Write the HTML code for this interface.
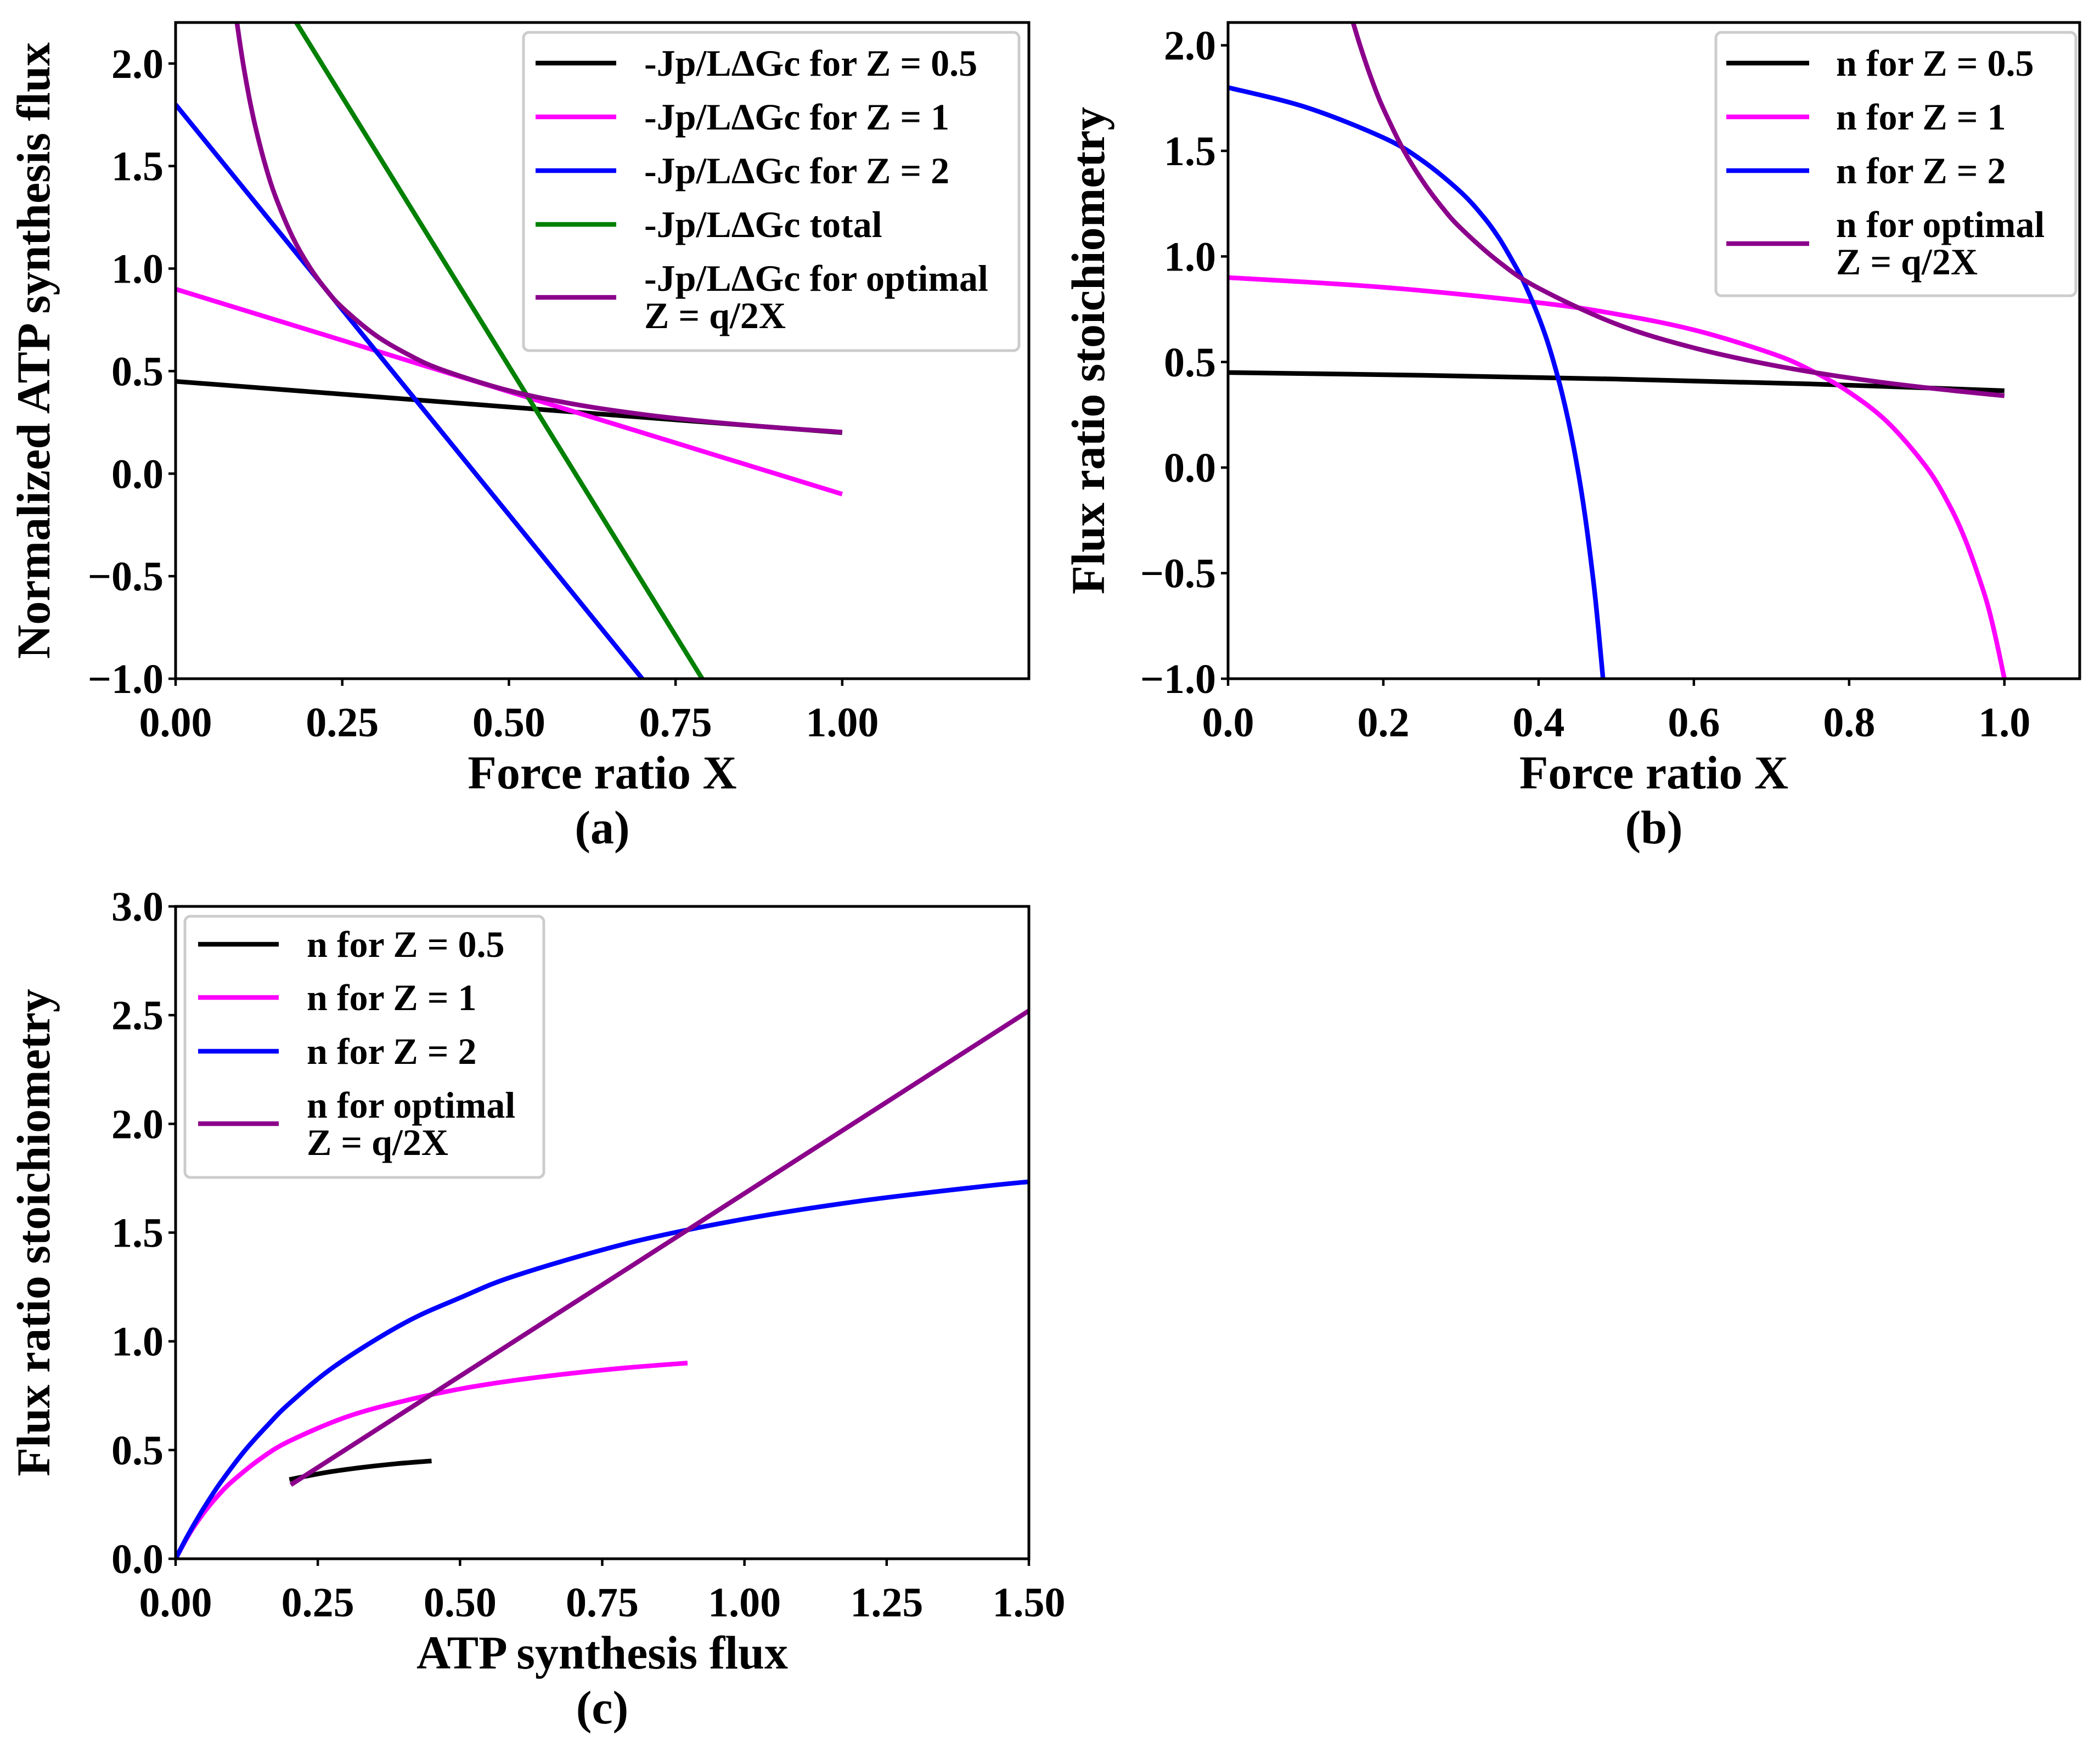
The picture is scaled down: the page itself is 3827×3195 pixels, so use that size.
<!DOCTYPE html>
<html><head><meta charset="utf-8"><style>
html,body{margin:0;padding:0;background:#fff}
svg{display:block}
text{font-family:"Liberation Serif",serif;font-weight:bold;fill:#000}
</style></head><body>
<svg id="fig" width="3827" height="3195" viewBox="0 0 3827 3195" xmlns="http://www.w3.org/2000/svg"></svg>
<script>
// ---------- Panel (a) data ----------
const aXTicks = [0, 0.25, 0.5, 0.75, 1.0];
const aXTickLabels = ["0.00","0.25","0.50","0.75","1.00"];
const aYTicks = [-1.0,-0.5,0.0,0.5,1.0,1.5,2.0];
const aYTickLabels = ["\u22121.0","\u22120.5","0.0","0.5","1.0","1.5","2.0"];
const aZ05X = [0, 1];
const aZ05Y = [0.45, 0.2];
const aZ1X = [0, 1];
const aZ1Y = [0.9, -0.1];
const aZ2X = [0, 0.7];
const aZ2Y = [1.8, -1.0];
const aTotX = [0.181, 0.79];
const aTotY = [2.2, -1.0];
const aOptX = [0.092,0.1,0.11,0.12,0.135,0.15,0.175,0.2,0.225,0.25,0.3,0.35,0.4,0.5,0.6,0.7,0.8,0.9,1.0];
const aOptY = [2.2,2.025,1.841,1.6875,1.5,1.35,1.157,1.0125,0.9,0.81,0.675,0.579,0.506,0.405,0.3375,0.289,0.253,0.225,0.2025];

// ---------- Panel (b) data ----------
const bXTicks = [0,0.2,0.4,0.6,0.8,1.0];
const bXTickLabels = ["0.0","0.2","0.4","0.6","0.8","1.0"];
const bYTicks = [-1.0,-0.5,0.0,0.5,1.0,1.5,2.0];
const bYTickLabels = ["\u22121.0","\u22120.5","0.0","0.5","1.0","1.5","2.0"];
const bZ05X = [0,0.25,0.5,0.75,1.0];
const bZ05Y = [0.45,0.437,0.419,0.396,0.364];
const bZ1X = [0,0.2,0.4,0.5,0.6,0.7,0.75,0.8,0.85,0.9,0.93,0.95,0.97,0.98,0.99,1.0];
const bZ1Y = [0.9,0.854,0.781,0.727,0.652,0.541,0.462,0.357,0.213,0,-0.184,-0.345,-0.551,-0.672,-0.826,-1.0];
const bZ2X = [0,0.1,0.2,0.25,0.3,0.33,0.35,0.37,0.38,0.39,0.4,0.41,0.42,0.43,0.44,0.45,0.46,0.47,0.475,0.48,0.483];
const bZ2Y = [1.8,1.707,1.5625,1.4545,1.304,1.183,1.081,0.955,0.886,0.804,0.714,0.612,0.492,0.354,0.192,0,-0.233,-0.519,-0.688,-0.882,-1.0];
const bOptX = [0.161,0.17,0.18,0.19,0.2,0.225,0.25,0.275,0.3,0.35,0.4,0.5,0.6,0.7,0.8,0.9,1.0];
const bOptY = [2.108,2.0,1.889,1.789,1.7,1.511,1.36,1.236,1.133,0.971,0.85,0.68,0.567,0.486,0.425,0.378,0.34];

// ---------- Panel (c) data ----------
const cXTicks = [0,0.25,0.5,0.75,1.0,1.25,1.5];
const cXTickLabels = ["0.00","0.25","0.50","0.75","1.00","1.25","1.50"];
const cYTicks = [0,0.5,1.0,1.5,2.0,2.5,3.0];
const cYTickLabels = ["0.0","0.5","1.0","1.5","2.0","2.5","3.0"];
const cZ05X = [0.2,0.2625,0.325,0.3875,0.45];
const cZ05Y = [0.364,0.396,0.419,0.437,0.45];
const cZ1X = [0,0.025,0.05,0.075,0.1,0.15,0.2,0.3,0.4,0.5,0.6,0.7,0.8,0.9];
const cZ1Y = [0,0.1176,0.213,0.292,0.357,0.4615,0.541,0.652,0.725,0.781,0.822,0.854,0.880,0.9];
const cZ2X = [0,0.02,0.04,0.06,0.08,0.12,0.16,0.2,0.28,0.4,0.5,0.6,0.8,1.0,1.2,1.4,1.5];
const cZ2Y = [0,0.1005,0.192,0.276,0.354,0.492,0.609,0.714,0.886,1.081,1.2,1.304,1.4545,1.5625,1.644,1.707,1.734];
const cOptX = [0.2025,1.5];
const cOptY = [0.34,2.52];

const NS = "http://www.w3.org/2000/svg";
const svg = document.getElementById('fig');
function mk(tag, attrs, parent){
  const e = document.createElementNS(NS, tag);
  for (const k in attrs) e.setAttribute(k, attrs[k]);
  (parent||svg).appendChild(e);
  return e;
}
function smoothPath(pts){
  if (pts.length < 3) return 'M' + pts.map(p=>p[0].toFixed(1)+' '+p[1].toFixed(1)).join('L');
  let d = 'M' + pts[0][0].toFixed(1) + ' ' + pts[0][1].toFixed(1);
  for (let i=0;i<pts.length-1;i++){
    const p0 = pts[Math.max(0,i-1)], p1 = pts[i], p2 = pts[i+1], p3 = pts[Math.min(pts.length-1,i+2)];
    const c1x = p1[0] + (p2[0]-p0[0])/6, c1y = p1[1] + (p2[1]-p0[1])/6;
    const c2x = p2[0] - (p3[0]-p1[0])/6, c2y = p2[1] - (p3[1]-p1[1])/6;
    d += 'C' + c1x.toFixed(1)+' '+c1y.toFixed(1)+' '+c2x.toFixed(1)+' '+c2y.toFixed(1)+' '+p2[0].toFixed(1)+' '+p2[1].toFixed(1);
  }
  return d;
}
function panel(cfg){
  const g = mk('g', {});
  
  
  const L=cfg.L,R=cfg.R,T=cfg.T,B=cfg.B;
  const sx = v => L + (v - cfg.xmin)/(cfg.xmax-cfg.xmin)*(R-L);
  const sy = v => B - (v - cfg.ymin)/(cfg.ymax-cfg.ymin)*(B-T);
  const clip = mk('clipPath', {id: cfg.name+'-clip'}, g);
  mk('rect', {x:L, y:T, width:R-L, height:B-T}, clip);
  cfg.series.forEach(s=>{
    const pts = s.x.map((xv,i)=>[sx(xv), sy(s.y[i])]);
    const p = mk('path', {d:smoothPath(pts), fill:'none', stroke:s.color, 'stroke-width':8.5, 'stroke-linejoin':'round', 'clip-path':'url(#'+cfg.name+'-clip)'}, g);
    
    
  });
  const fr = mk('rect', {x:L, y:T, width:R-L, height:B-T, fill:'none', stroke:'#000', 'stroke-width':5}, g);
  
  
  cfg.xt.forEach((v,i)=>{
    const x = sx(v);
    mk('line', {x1:x, x2:x, y1:B, y2:B+13, stroke:'#000', 'stroke-width':4.5}, g);
    const t = mk('text', {x:x, y:B+105, 'font-size':76, 'text-anchor':'middle'}, g);
    t.textContent = cfg.xtl[i];
    
    
  });
  cfg.yt.forEach((v,i)=>{
    const y = sy(v);
    mk('line', {x1:L-13, x2:L, y1:y, y2:y, stroke:'#000', 'stroke-width':4.5}, g);
    const t = mk('text', {x:L-22, y:y+26, 'font-size':76, 'text-anchor':'end'}, g);
    t.textContent = cfg.ytl[i];
    
    
  });
  const xl = mk('text', {x:(L+R)/2, y:B+200, 'font-size':86, 'text-anchor':'middle'}, g);
  xl.textContent = cfg.xlabel;
  
  
  const cap = mk('text', {x:(L+R)/2, y:B+300, 'font-size':86, 'text-anchor':'middle'}, g);
  cap.textContent = cfg.caption;
  
  
  const yl = mk('text', {x:0, y:0, 'font-size':86, 'text-anchor':'middle', transform:'translate('+cfg.ylx+','+((T+B)/2)+') rotate(-90)'}, g);
  yl.textContent = cfg.ylabel;
  
  
  const lg = cfg.legend;
  const lgG = mk('g', {}, g);
  
  
  mk('rect', {x:lg.x, y:lg.y, width:lg.w, height:lg.h, rx:10, fill:'#fff', 'fill-opacity':0.8, stroke:'#ccc', 'stroke-width':5}, lgG);
  lg.items.forEach(it=>{
    const e = mk('g', {}, lgG);
    
    
    mk('line', {x1:lg.hx1, x2:lg.hx2, y1:it.hy, y2:it.hy, stroke:it.color, 'stroke-width':8.5}, e);
    it.lines.forEach((ln,j)=>{
      const t = mk('text', {x:lg.tx, y:it.ty + j*68, 'font-size':68, 'xml:space':'preserve'}, e);
      t.textContent = ln;
    });
  });
}

panel({name:'panel-a', L:320, R:1875, T:41, B:1237, xmin:0, xmax:1.28, ymin:-1, ymax:2.2,
  xt:aXTicks, xtl:aXTickLabels, yt:aYTicks, ytl:aYTickLabels,
  xlabel:'Force ratio X', caption:'(a)', ylabel:'Normalized ATP synthesis flux', ylx:90,
  series:[
    {name:'line-z05', x:aZ05X, y:aZ05Y, color:'#000000'},
    {name:'line-z1', x:aZ1X, y:aZ1Y, color:'#ff00ff'},
    {name:'line-z2', x:aZ2X, y:aZ2Y, color:'#0000ff'},
    {name:'line-total', x:aTotX, y:aTotY, color:'#008000'},
    {name:'line-optimal', x:aOptX, y:aOptY, color:'#8b008b'}],
  legend:{x:954, y:59, w:903, h:580, hx1:976, hx2:1123, tx:1174, items:[
    {color:'#000000', hy:115, ty:138, lines:['-Jp/L\u0394Gc for Z = 0.5']},
    {color:'#ff00ff', hy:213, ty:236, lines:['-Jp/L\u0394Gc for Z = 1']},
    {color:'#0000ff', hy:311, ty:334, lines:['-Jp/L\u0394Gc for Z = 2']},
    {color:'#008000', hy:409, ty:432, lines:['-Jp/L\u0394Gc total']},
    {color:'#8b008b', hy:542, ty:530, lines:['-Jp/L\u0394Gc for optimal',' Z = q/2X']}]}
});

panel({name:'panel-b', L:2238, R:3790, T:41, B:1237, xmin:0, xmax:1.097, ymin:-1, ymax:2.108,
  xt:bXTicks, xtl:bXTickLabels, yt:bYTicks, ytl:bYTickLabels,
  xlabel:'Force ratio X', caption:'(b)', ylabel:'Flux ratio stoichiometry', ylx:2012,
  series:[
    {name:'line-z05', x:bZ05X, y:bZ05Y, color:'#000000'},
    {name:'line-z1', x:bZ1X, y:bZ1Y, color:'#ff00ff'},
    {name:'line-z2', x:bZ2X, y:bZ2Y, color:'#0000ff'},
    {name:'line-optimal', x:bOptX, y:bOptY, color:'#8b008b'}],
  legend:{x:3127, y:59, w:656, h:480, hx1:3146, hx2:3297, tx:3346, items:[
    {color:'#000000', hy:115, ty:138, lines:['n for Z = 0.5']},
    {color:'#ff00ff', hy:213, ty:236, lines:['n for Z = 1']},
    {color:'#0000ff', hy:311, ty:334, lines:['n for Z = 2']},
    {color:'#8b008b', hy:444, ty:432, lines:['n for optimal',' Z = q/2X']}]}
});

panel({name:'panel-c', L:320, R:1875, T:1652, B:2841, xmin:0, xmax:1.5, ymin:0, ymax:3,
  xt:cXTicks, xtl:cXTickLabels, yt:cYTicks, ytl:cYTickLabels,
  xlabel:'ATP synthesis flux', caption:'(c)', ylabel:'Flux ratio stoichiometry', ylx:90,
  series:[
    {name:'line-z05', x:cZ05X, y:cZ05Y, color:'#000000'},
    {name:'line-z1', x:cZ1X, y:cZ1Y, color:'#ff00ff'},
    {name:'line-z2', x:cZ2X, y:cZ2Y, color:'#0000ff'},
    {name:'line-optimal', x:cOptX, y:cOptY, color:'#8b008b'}],
  legend:{x:337, y:1670, w:654, h:476, hx1:361, hx2:508, tx:559, items:[
    {color:'#000000', hy:1721, ty:1744, lines:['n for Z = 0.5']},
    {color:'#ff00ff', hy:1818, ty:1841, lines:['n  for Z = 1']},
    {color:'#0000ff', hy:1916, ty:1939, lines:['n  for Z = 2']},
    {color:'#8b008b', hy:2048, ty:2037, lines:['n for optimal',' Z = q/2X']}]}
});
</script>
</body></html>
